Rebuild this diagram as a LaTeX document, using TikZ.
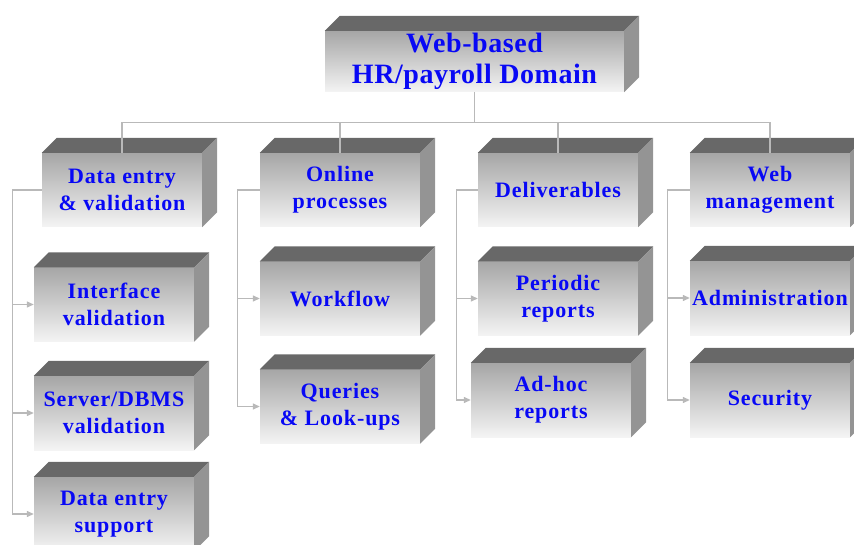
\documentclass[tikz,border=0pt]{standalone}
\usepackage{fontspec}
\setmainfont{Liberation Serif}
\usetikzlibrary{arrows.meta}
\definecolor{facegrey}{RGB}{166,166,166}
\definecolor{facewhite}{RGB}{244,244,244}
\definecolor{topgrey}{RGB}{104,104,104}
\definecolor{sidegrey}{RGB}{148,148,148}
\definecolor{linegrey}{RGB}{185,185,185}
\definecolor{textblue}{RGB}{8,8,245}
\tikzset{
  block/.style={
    minimum width=160,
    minimum height=74,
    inner sep=0pt,
    top color=facegrey,
    bottom color=facewhite,
    text=textblue,
    align=center,
    font=\bfseries\fontsize{22}{27}\selectfont\addfontfeature{LetterSpace=4},
  },
  root block/.style={
    block,
    minimum width=299,
    minimum height=61,
    font=\bfseries\fontsize{28}{31}\selectfont\addfontfeature{LetterSpace=2},
  },
  bus/.style={draw=linegrey, line width=1.3pt},
  branch/.style={bus, -{Triangle[length=7pt,width=6pt]}},
}

\begin{document}
\begin{tikzpicture}[x=1pt, y=-1pt]
  \useasboundingbox (0,0) rectangle (854,545);
  \clip (0,0) rectangle (854,545);

  \node[root block] (root) at (474.5,61.5) {Web-based\\HR/payroll Domain};

  \node[block] (entry) at (122,190) {Data entry\\\& validation};
  \node[block] (online) at (340,190) {Online\\processes};
  \node[block] (deliv) at (558,190) {Deliverables};
  \node[block] (webman) at (770,190) {Web\\management};

  \node[block] (iface) at (114,304.5) {Interface\\validation};
  \node[block] (server) at (114,413) {Server/DBMS\\validation};
  \node[block] (support) at (114,514) {Data entry\\support};
  \node[block] (workflow) at (340,298.5) {Workflow};
  \node[block] (queries) at (340,406.5) {Queries\\\& Look-ups};
  \node[block] (periodic) at (558,298.5) {Periodic\\reports};
  \node[block] (adhoc) at (551,400) {Ad-hoc\\reports};
  \node[block] (admin) at (770,298) {Administration};
  \node[block] (security) at (770,400) {Security};

  % top and side faces
  \foreach \n in {root,entry,online,deliv,webman,iface,server,support,
                  workflow,queries,periodic,adhoc,admin,security} {
    \fill[topgrey] (\n.north west) -- ++(15pt,15pt)
      -- ([shift={(15pt,15pt)}]\n.north east) -- (\n.north east) -- cycle;
    \fill[sidegrey] (\n.north east) -- ++(15pt,15pt)
      -- ([shift={(15pt,15pt)}]\n.south east) -- (\n.south east) -- cycle;
  }

  \foreach \n in {entry,online,deliv,webman}
    \draw[bus] (root.south) -- ++(0,30) -| (\n.north);

  \foreach \c in {iface,server,support}
    \draw[branch] (entry.west) -- ++(-29,0) |- (\c.west);
  \foreach \c in {workflow,queries}
    \draw[branch] (online.west) -- ++(-22,0) |- (\c.west);
  \foreach \c in {periodic,adhoc}
    \draw[branch] (deliv.west) -- ++(-21,0) |- (\c.west);
  \foreach \c in {admin,security}
    \draw[branch] (webman.west) -- ++(-22,0) |- (\c.west);
\end{tikzpicture}
\end{document}
